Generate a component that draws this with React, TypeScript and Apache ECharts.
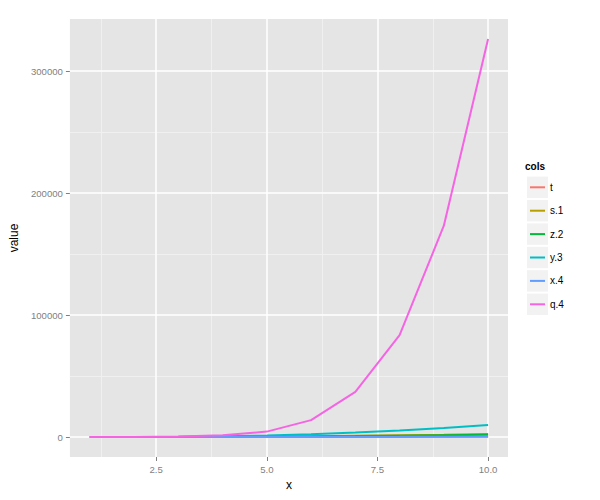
import React, { useEffect, useRef } from "react";
import * as echarts from "echarts";

const xs = [1, 2, 3, 4, 5, 6, 7, 8, 9, 10];
const seriesNames = ["t", "s.1", "z.2", "y.3", "x.4", "q.4"];
const colors = ["#F8766D", "#B79F00", "#00BA38", "#00BFC4", "#619CFF", "#F564E3"];
const tVals = [0, 5, 15, 30, 50, 80, 120, 170, 230, 300];
const s1Vals = [0, 20, 80, 200, 400, 700, 1050, 1500, 2000, 2600];
const z2Vals = [0, 15, 60, 150, 300, 520, 800, 1150, 1500, 1900];
const y3Vals = [0, 60, 250, 600, 1300, 2300, 3700, 5400, 7500, 9900];
const x4Vals = [0, 2, 10, 30, 60, 110, 170, 250, 350, 480];
const q4Vals = [0, 60, 400, 1500, 4500, 13900, 37000, 83600, 173300, 326500];
const xMajor = [2.5, 5, 7.5, 10];
const xMinor = [1.25, 3.75, 6.25, 8.75];
const yMajor = [0, 100000, 200000, 300000];
const yMinor = [50000, 150000, 250000];

const FONT = "'Liberation Sans', Arial, sans-serif";

export default function App() {
  const ref = useRef<HTMLDivElement>(null);
  useEffect(() => {
    document.body.style.margin = "0";
    if (!ref.current) return;
    const chart = echarts.init(ref.current, undefined, { renderer: "svg" });
    const allVals = [tVals, s1Vals, z2Vals, y3Vals, x4Vals, q4Vals];
    const lines = seriesNames.map((name, i) => ({
      name,
      type: "line",
      data: xs.map((x, j) => [x, allVals[i][j]]),
      showSymbol: false,
      symbol: "none",
      lineStyle: { width: 2, color: colors[i] },
      itemStyle: { color: colors[i] },
      z: 10,
    }));
    const gridSeries = {
      name: "__grid",
      type: "line",
      data: [],
      z: 1,
      silent: true,
      markLine: {
        silent: true,
        symbol: "none",
        animation: false,
        z: 1,
        label: { show: false },
        data: [
          ...xMinor.map((v) => ({ xAxis: v, lineStyle: { color: "#F0F0F0", width: 1, type: "solid" } })),
          ...yMinor.map((v) => ({ yAxis: v, lineStyle: { color: "#F0F0F0", width: 1, type: "solid" } })),
          ...xMajor.map((v) => ({ xAxis: v, lineStyle: { color: "#FFFFFF", width: 1.5, type: "solid" } })),
          ...yMajor.map((v) => ({ yAxis: v, lineStyle: { color: "#FFFFFF", width: 1.5, type: "solid" } })),
        ],
      },
    };
    const option: any = {
      animation: false,
      textStyle: { fontFamily: FONT },
      grid: {
        left: 67,
        top: 19,
        right: 92,
        bottom: 43,
        show: true,
        backgroundColor: "#E5E5E5",
        borderWidth: 0,
        containLabel: false,
      },
      xAxis: {
        type: "value",
        min: 0.55,
        max: 10.45,
        name: "x",
        nameLocation: "middle",
        nameGap: 19,
        nameTextStyle: { color: "#000", fontSize: 12, fontFamily: FONT },
        axisLine: { show: false, onZero: false },
        axisTick: { show: true, customValues: xMajor, length: 4, lineStyle: { color: "#7F7F7F", width: 1 } },
        axisLabel: {
          customValues: xMajor,
          margin: 7,
          color: "#7F7F7F",
          fontSize: 9.6,
          fontFamily: FONT,
          formatter: (v: number) => v.toFixed(1),
        },
        splitLine: { show: false },
      },
      yAxis: {
        type: "value",
        min: -16325,
        max: 342825,
        name: "value",
        nameLocation: "middle",
        nameGap: 41,
        nameTextStyle: { color: "#000", fontSize: 12, fontFamily: FONT },
        axisLine: { show: false, onZero: false },
        axisTick: { show: true, customValues: yMajor, length: 4, lineStyle: { color: "#7F7F7F", width: 1 } },
        axisLabel: {
          customValues: yMajor,
          margin: 7,
          color: "#7F7F7F",
          fontSize: 9.6,
          fontFamily: FONT,
          formatter: (v: number) => String(v),
        },
        splitLine: { show: false },
      },
      legend: {
        data: seriesNames,
        orient: "vertical",
        left: 530,
        top: 181.3,
        padding: 0,
        itemGap: 11.4,
        itemWidth: 15,
        itemHeight: 2,
        icon: "rect",
        selectedMode: false,
        textStyle: { fontSize: 10, lineHeight: 12, color: "#000", fontFamily: FONT },
      },
      graphic: [
        {
          type: "text",
          left: 525,
          top: 161,
          style: { text: "cols", font: `bold 10px ${FONT}`, fill: "#000" },
        },
        ...seriesNames.map((_, i) => ({
          type: "rect",
          shape: { x: 527, y: 176.6 + 23.4 * i, width: 21, height: 21.4 },
          style: { fill: "#F2F2F2" },
          z: -1,
          silent: true,
        })),
      ],
      series: [gridSeries, ...lines],
    };
    chart.setOption(option);
    return () => chart.dispose();
  }, []);
  return <div ref={ref} style={{ position: "absolute", left: 0, top: 0, width: 600, height: 500 }} />;
}
